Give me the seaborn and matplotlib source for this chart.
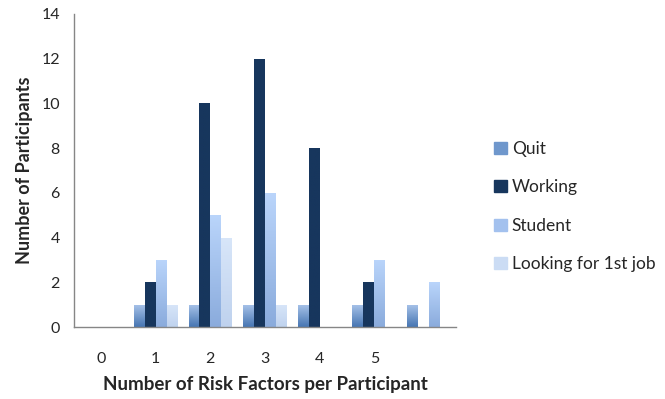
import numpy as np
import pandas as pd
import matplotlib
matplotlib.use("Agg")
import matplotlib.pyplot as plt
from matplotlib.colors import LinearSegmentedColormap
import seaborn as sns

# Risk factor count per participant (last group has no printed label)
categories = [0, 1, 2, 3, 4, 5, 6]
tick_labels = ["0", "1", "2", "3", "4", "5", ""]

quit_vals = [0, 1, 1, 1, 1, 1, 1]
working_vals = [0, 2, 10, 12, 8, 2, 0]
student_vals = [0, 3, 5, 6, 0, 3, 2]
looking_vals = [0, 1, 4, 1, 0, 0, 0]

series_names = ["Quit", "Working", "Student", "Looking for 1st job"]
series_values = [quit_vals, working_vals, student_vals, looking_vals]

# (bottom colour, top colour) for each series' vertical gradient
gradients = {
    "Quit": ("#4675b2", "#a9c4ea"),
    "Working": ("#17365d", "#17365d"),
    "Student": ("#8aabdc", "#bad5fb"),
    "Looking for 1st job": ("#bfd2ee", "#d8e6f9"),
}
legend_colors = {
    "Quit": "#6f97cc",
    "Working": "#17365d",
    "Student": "#a3c1ee",
    "Looking for 1st job": "#cbdcf4",
}

rows = []
for name, vals in zip(series_names, series_values):
    for c, v in zip(categories, vals):
        rows.append({"risk": c, "status": name, "count": v})
df = pd.DataFrame(rows)

sns.set_style("white")
plt.rcParams["font.family"] = ["Lato", "DejaVu Sans"]

fig = plt.figure(figsize=(6.65, 3.99), dpi=100)
ax = fig.add_axes([0.111, 0.18, 0.575, 0.785])

sns.barplot(data=df, x="risk", y="count", hue="status", hue_order=series_names,
            order=categories, palette=legend_colors, width=0.8, ax=ax,
            legend=True, saturation=1, errorbar=None)

# Replace flat fills with vertical gradients clipped to each bar
grad_img = np.linspace(0, 1, 256).reshape(-1, 1)
for container, name in zip(ax.containers, series_names):
    bottom, top = gradients[name]
    cmap = LinearSegmentedColormap.from_list(name, [bottom, top])
    for bar in container:
        h = bar.get_height()
        if h <= 0:
            bar.set_visible(False)
            continue
        x0, y0, w = bar.get_x(), bar.get_y(), bar.get_width()
        img = ax.imshow(grad_img, cmap=cmap, origin="lower", aspect="auto",
                        extent=[x0, x0 + w, y0, y0 + h], zorder=2,
                        interpolation="bilinear")
        img.set_clip_path(bar)
        bar.set_facecolor("none")
        bar.set_edgecolor("none")

ax.set_xlim(-0.5, 6.5)
ax.set_ylim(0, 14)
ax.set_yticks(np.arange(0, 15, 2))

ax.set_xticks(categories)
ax.set_xticklabels(tick_labels, fontsize=11.5)
ax.set_xticks(np.arange(-0.5, 7, 1), minor=True)
ax.tick_params(axis="x", which="major", length=0, pad=18)
ax.tick_params(axis="x", which="minor", length=5, width=1, color="#868686",
               direction="out")
ax.tick_params(axis="y", length=5, width=1, color="#868686", direction="out",
               labelsize=11.5, pad=5)

for side in ["top", "right"]:
    ax.spines[side].set_visible(False)
for side in ["left", "bottom"]:
    ax.spines[side].set_color("#868686")
    ax.spines[side].set_linewidth(1)

ax.set_xlabel("Number of Risk Factors per Participant", fontsize=13.5,
              fontweight="bold", labelpad=7)
ax.set_ylabel("Number of Participants", fontsize=13, fontweight="bold",
              labelpad=6)

handles = [plt.Rectangle((0, 0), 1, 1, color=legend_colors[n]) for n in series_names]
ax.legend(handles, series_names, loc="center left", bbox_to_anchor=(1.10, 0.385),
          frameon=False, fontsize=12.5, handlelength=0.7, handleheight=0.7,
          handletextpad=0.3, labelspacing=1.3, borderaxespad=0, borderpad=0)

fig.savefig("out.png", dpi=100)
